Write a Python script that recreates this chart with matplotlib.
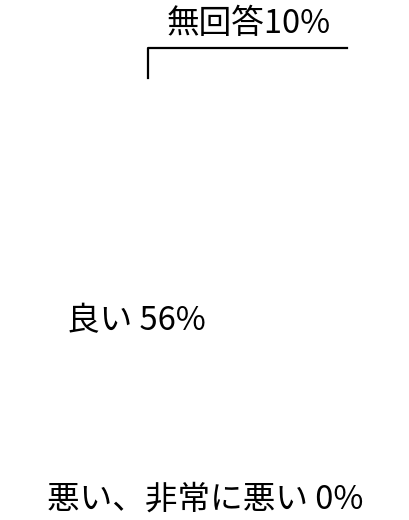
import matplotlib.pyplot as plt
from matplotlib.lines import Line2D

plt.rcParams['font.family'] = ['Noto Sans CJK JP', 'DejaVu Sans']

labels = ['良い', '無回答', '悪い、非常に悪い']
values = [56, 10, 0]
seps = [' ', '', ' ']

W, H = 410, 520
fig = plt.figure(figsize=(W / 100, H / 100), dpi=100)
ax = fig.add_axes([0, 0, 1, 1])
ax.set_axis_off()

# wedges are white on white in the original, only the labels show
ax.pie(values, colors=['white'] * len(values), startangle=90,
       wedgeprops=dict(linewidth=0))

# label positions in pixels (left x, centre y)
pos = [(67, 321), (167, 24), (47, 500)]
for lab, v, s, (px, py) in zip(labels, values, seps, pos):
    fig.text(px / W, 1 - py / H, f"{lab}{s}{v}%", fontsize=23.5,
             ha='left', va='center', color='black')

# leader line for 無回答
xs = [148, 148, 347]
ys = [78, 48, 48]
fig.add_artist(Line2D([x / W for x in xs], [1 - y / H for y in ys],
                      transform=fig.transFigure, color='black', lw=1.6))

fig.savefig('out.png', dpi=100)
